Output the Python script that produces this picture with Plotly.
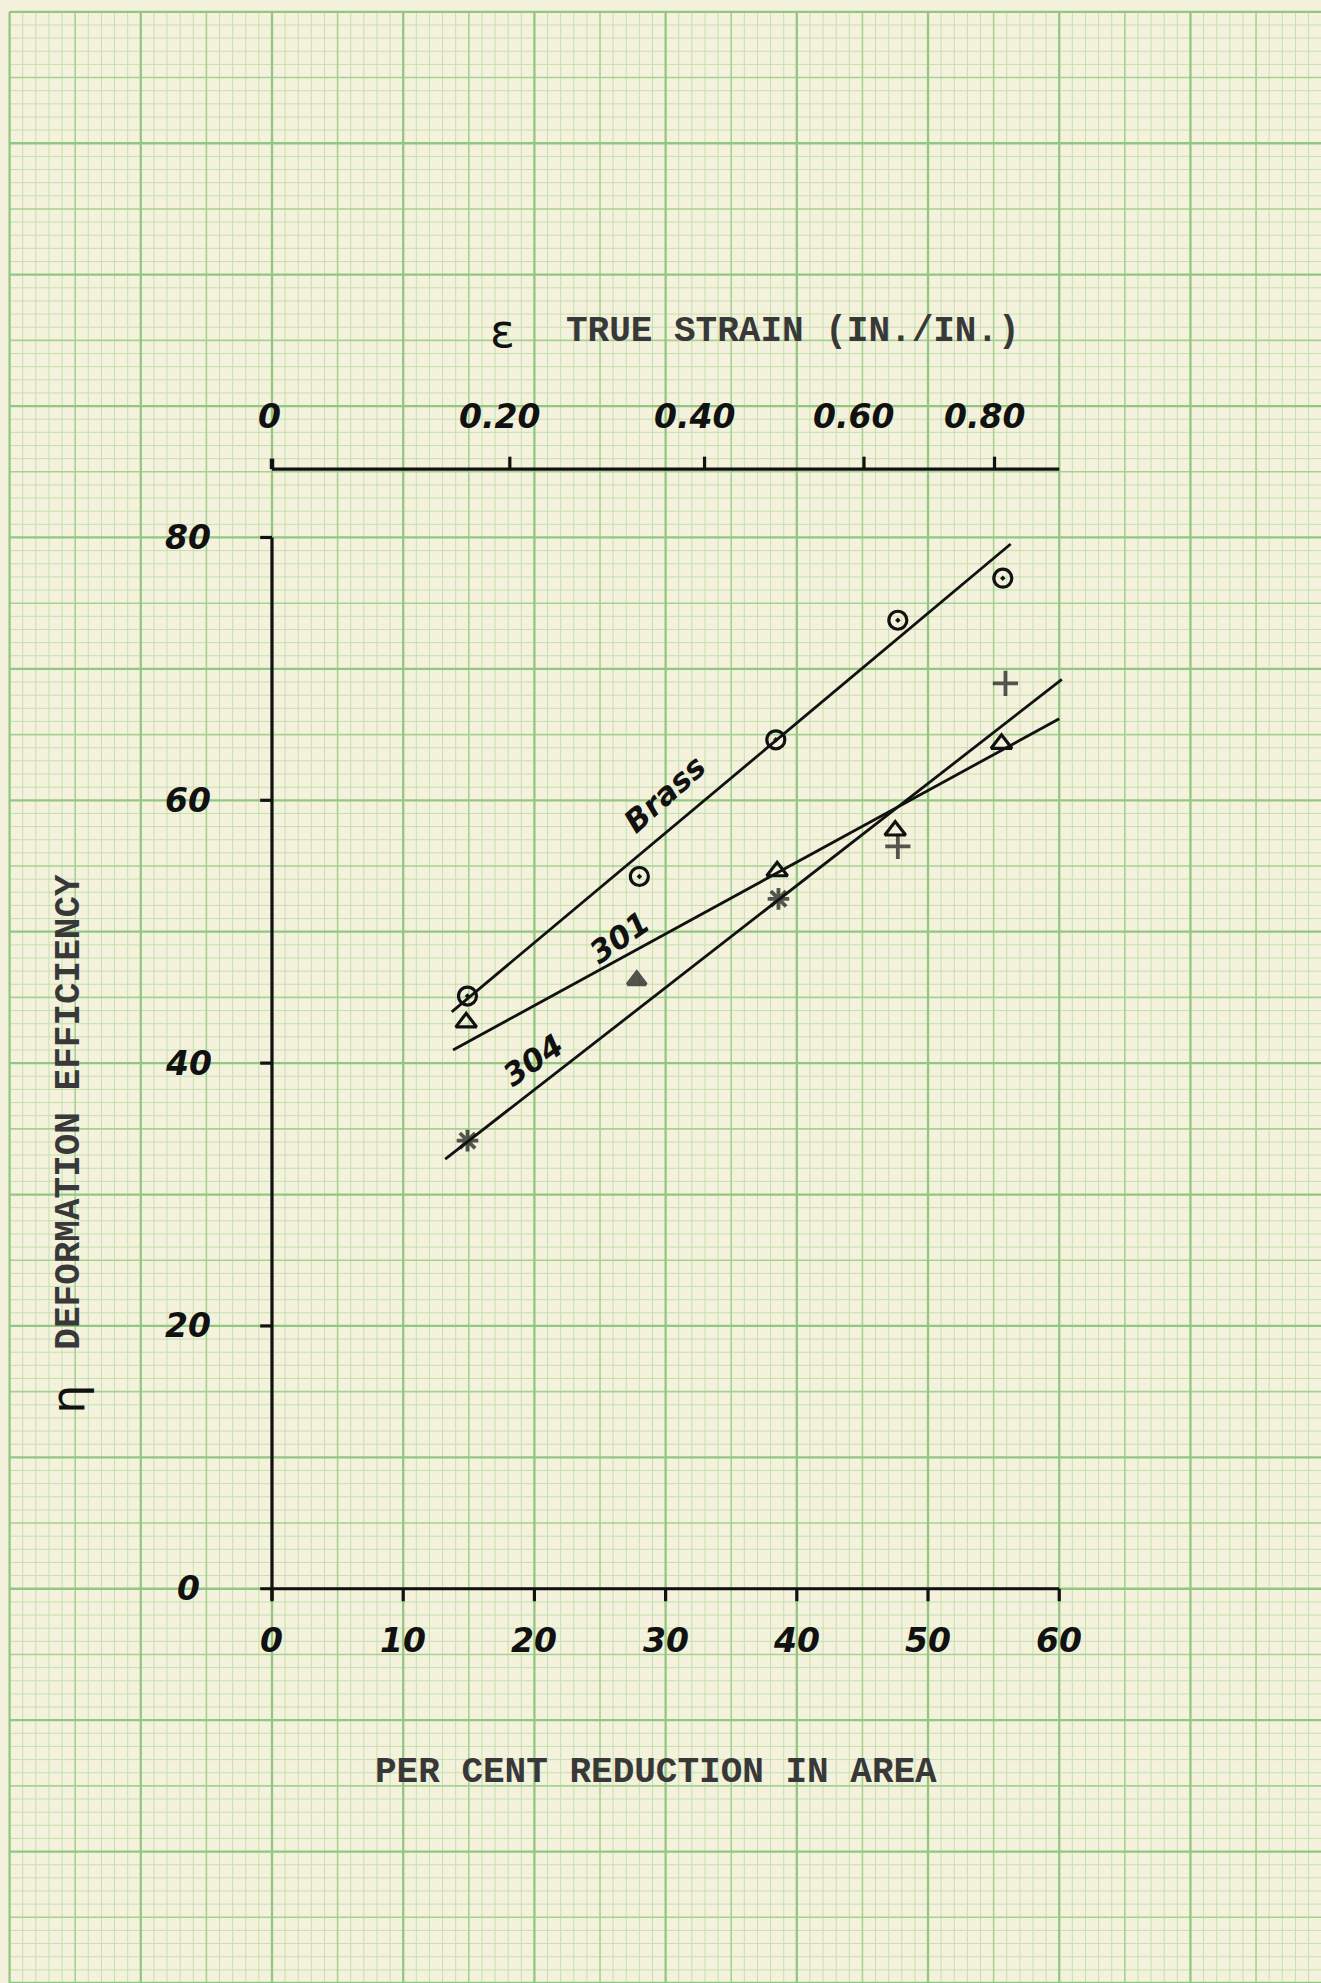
import numpy as np
import plotly.graph_objects as go

# ---------------- data ----------------
brass_reduction = [14.9, 28.0, 38.4, 47.7, 55.7]
brass_eff = [45.1, 54.2, 64.6, 73.7, 76.9]

s301_reduction = [14.8, 38.5, 47.5, 55.6]
s301_eff = [43.1, 54.6, 57.7, 64.3]

s304_reduction = [14.9, 27.8, 38.6, 47.7, 55.9]
s304_eff = [34.1, 46.3, 52.5, 56.5, 68.9]

# hand-drawn fit lines (end points)
brass_fit_x = [13.7, 56.3]
brass_fit_y = [43.9, 79.5]
s301_fit_x = [13.8, 60.0]
s301_fit_y = [41.0, 66.2]
s304_fit_x = [13.2, 60.2]
s304_fit_y = [32.7, 69.2]

x_ticks = [0, 10, 20, 30, 40, 50, 60]
y_ticks = [0, 20, 40, 60, 80]
strain_ticks = [0.20, 0.40, 0.60, 0.80]
strain_labels = ["0.20", "0.40", "0.60", "0.80"]

# ---------------- style ----------------
W, H = 1321, 1983
X_RANGE = [-20.73, 79.95]
Y_RANGE = [-30.0, 120.9]
BG = "#f4f2dc"
MINOR = "#c4e0b0"
MID = "#a6d193"
MAJOR = "#93c781"
INK = "#111111"
TYPE = "#383838"
HAND = dict(family="DejaVu Sans", color=INK, weight="bold", style="italic")
TYPEW = dict(family="Liberation Mono", color=TYPE, weight="bold")

TOP_Y = 85.2  # level of the top (true strain) axis


def strain_to_reduction(e):
    return 100.0 * (1.0 - np.exp(-e))


fig = go.Figure()

# ---------------- graph paper ----------------
shapes = []
for level in ("minor", "mid", "major"):
    col = {"minor": MINOR, "mid": MID, "major": MAJOR}[level]
    wd = {"minor": 1, "mid": 1.6, "major": 2.3}[level]
    for v in range(-20, 80):
        lv = "major" if v % 10 == 0 else ("mid" if v % 5 == 0 else "minor")
        if lv == level:
            shapes.append(dict(type="line", xref="x", yref="y", x0=v, x1=v,
                               y0=Y_RANGE[0], y1=120, layer="below",
                               line=dict(color=col, width=wd)))
    for v in range(-30, 121):
        lv = "major" if v % 10 == 0 else ("mid" if v % 5 == 0 else "minor")
        if lv == level:
            shapes.append(dict(type="line", xref="x", yref="y", x0=-20, x1=X_RANGE[1],
                               y0=v, y1=v, layer="below",
                               line=dict(color=col, width=wd)))

# ---------------- hand-drawn axes ----------------
ax_line = dict(color=INK, width=3.2)
# bottom axis
shapes.append(dict(type="line", xref="x", yref="y", x0=-0.9, x1=60, y0=0, y1=0, line=ax_line))
for t in x_ticks:
    shapes.append(dict(type="line", xref="x", yref="y", x0=t, x1=t, y0=0, y1=-0.95, line=ax_line))
# left axis
shapes.append(dict(type="line", xref="x", yref="y", x0=0, x1=0, y0=-0.9, y1=80, line=ax_line))
for t in y_ticks[1:]:
    shapes.append(dict(type="line", xref="x", yref="y", x0=-0.9, x1=0, y0=t, y1=t, line=ax_line))
# top axis (true strain)
shapes.append(dict(type="line", xref="x", yref="y", x0=0, x1=60, y0=TOP_Y, y1=TOP_Y, line=ax_line))
shapes.append(dict(type="line", xref="x", yref="y", x0=0, x1=0, y0=TOP_Y, y1=TOP_Y + 0.8,
                   line=dict(color=INK, width=4.5)))
for e in strain_ticks:
    xr = strain_to_reduction(e)
    shapes.append(dict(type="line", xref="x", yref="y", x0=xr, x1=xr,
                       y0=TOP_Y, y1=TOP_Y + 0.95, line=ax_line))

# ---------------- fit lines ----------------
fit_style = dict(color=INK, width=2.8)
for fx, fy in ((brass_fit_x, brass_fit_y), (s301_fit_x, s301_fit_y), (s304_fit_x, s304_fit_y)):
    fig.add_trace(go.Scatter(x=fx, y=fy, mode="lines", line=fit_style,
                             hoverinfo="skip", showlegend=False))

# ---------------- data points ----------------
fig.add_trace(go.Scatter(
    x=brass_reduction, y=brass_eff, mode="markers", name="Brass",
    marker=dict(symbol="circle-open-dot", size=18, color=INK, line=dict(color=INK, width=3.2)),
    showlegend=False))
fig.add_trace(go.Scatter(
    x=s301_reduction, y=s301_eff, mode="markers", name="301",
    marker=dict(symbol="triangle-up-open", size=18, color=INK, line=dict(color=INK, width=3.2)),
    showlegend=False))
fig.add_trace(go.Scatter(
    x=s304_reduction, y=s304_eff, mode="markers", name="304",
    marker=dict(symbol=["asterisk-open", "triangle-up", "asterisk-open", "cross-thin-open", "cross-thin-open"],
                size=[18, 16, 18, 18, 18], color=INK, line=dict(color=INK, width=3.8)),
    showlegend=False))

# ---------------- text ----------------
ann = []
for t in x_ticks:
    ann.append(dict(x=t, y=-3.9, xref="x", yref="y", text=str(t), showarrow=False,
                    font=dict(size=33, **HAND)))
for t in y_ticks:
    ann.append(dict(x=-6.4, y=t, xref="x", yref="y", text=str(t), showarrow=False,
                    font=dict(size=33, **HAND)))
ann.append(dict(x=-0.2, y=89.2, xref="x", yref="y", text="0", showarrow=False,
                font=dict(size=33, **HAND)))
for e, lab in zip(strain_ticks, strain_labels):
    ann.append(dict(x=strain_to_reduction(e), y=89.2, xref="x", yref="y", text=lab,
                    showarrow=False, xshift=-10, font=dict(size=33, **HAND)))

ann.append(dict(x=17.6, y=95.7, xref="x", yref="y", text="ε", showarrow=False,
                font=dict(size=46, family="DejaVu Sans", color=INK)))
ann.append(dict(x=39.7, y=95.7, xref="x", yref="y", text="TRUE STRAIN (IN./IN.)",
                showarrow=False, font=dict(size=36, **TYPEW)))
ann.append(dict(x=29.3, y=-14.0, xref="x", yref="y", text="PER CENT REDUCTION IN AREA",
                showarrow=False, font=dict(size=36, **TYPEW)))
ann.append(dict(x=-15.4, y=36.3, xref="x", yref="y", text="DEFORMATION EFFICIENCY",
                showarrow=False, textangle=-90, font=dict(size=36, **TYPEW)))
ann.append(dict(x=-15.6, y=14.4, xref="x", yref="y", text="η", showarrow=False,
                textangle=-90, font=dict(size=46, family="DejaVu Sans", color=INK)))

ann.append(dict(x=29.9, y=60.5, xref="x", yref="y", text="Brass", showarrow=False,
                textangle=-42, font=dict(size=31, **HAND)))
ann.append(dict(x=26.5, y=49.6, xref="x", yref="y", text="301", showarrow=False,
                textangle=-35, font=dict(size=31, **HAND)))
ann.append(dict(x=19.9, y=40.2, xref="x", yref="y", text="304", showarrow=False,
                textangle=-35, font=dict(size=31, **HAND)))

fig.update_layout(
    width=W, height=H,
    margin=dict(l=0, r=0, t=0, b=0),
    paper_bgcolor=BG, plot_bgcolor=BG,
    shapes=shapes, annotations=ann,
    xaxis=dict(range=X_RANGE, showgrid=False, zeroline=False, showticklabels=False,
               ticks="", showline=False, fixedrange=True),
    yaxis=dict(range=Y_RANGE, showgrid=False, zeroline=False, showticklabels=False,
               ticks="", showline=False, fixedrange=True),
    showlegend=False,
)

fig.write_html("out.html", config={"displayModeBar": False},
               post_script="document.body.style.margin='0';")
